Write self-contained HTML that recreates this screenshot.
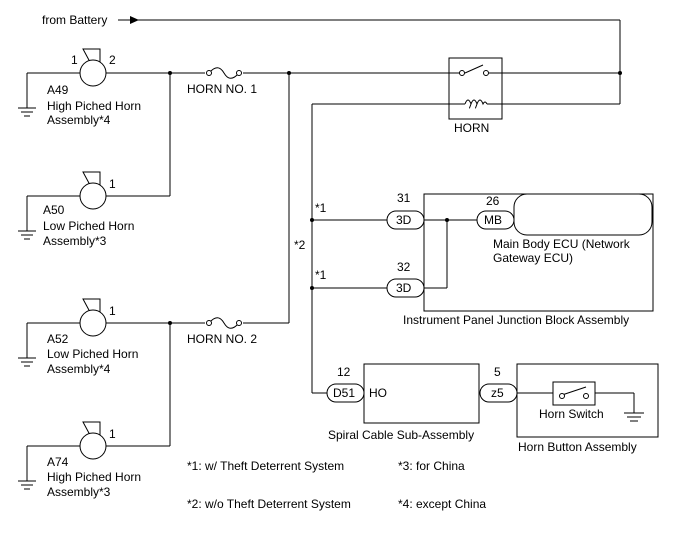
<!DOCTYPE html>
<html><head><style>body{margin:0;background:#fff}svg{display:block}text{font-family:"Liberation Sans",sans-serif;font-size:12px;fill:#000}</style></head>
<body>
<svg width="688" height="560" viewBox="0 0 688 560" xmlns="http://www.w3.org/2000/svg">
<g stroke="#000" stroke-width="1" fill="none">
<line x1="118" y1="20" x2="620" y2="20"/>
<line x1="620" y1="20" x2="620" y2="104"/>
<line x1="27" y1="73" x2="81" y2="73"/>
<line x1="105" y1="73" x2="205" y2="73"/>
<line x1="243" y1="73" x2="620" y2="73"/>
<path d="M209,73 C215,66 220,66 224,73 C228,80 233,80 239,73"/>
<line x1="312" y1="104" x2="620" y2="104"/>
<line x1="170" y1="73" x2="170" y2="196"/>
<line x1="27" y1="196" x2="81" y2="196"/>
<line x1="105" y1="196" x2="170" y2="196"/>
<line x1="289" y1="73" x2="289" y2="323"/>
<line x1="27" y1="323" x2="81" y2="323"/>
<line x1="105" y1="323" x2="205" y2="323"/>
<line x1="243" y1="323" x2="289" y2="323"/>
<path d="M209,323 C215,316 220,316 224,323 C228,330 233,330 239,323"/>
<line x1="170" y1="323" x2="170" y2="446"/>
<line x1="27" y1="446" x2="81" y2="446"/>
<line x1="105" y1="446" x2="170" y2="446"/>
<rect x="449" y="58" width="53" height="61" fill="#fff"/>
<line x1="449" y1="73" x2="462" y2="73"/><line x1="489" y1="73" x2="502" y2="73"/>
<line x1="465" y1="73" x2="483" y2="65"/>
<line x1="449" y1="104" x2="465" y2="104"/><line x1="487" y1="104" x2="502" y2="104"/>
<path d="M465,104 q3,-8 6,0 q-3,8 0,0 q3,-8 6,0 q-3,8 0,0 q3,-8 6,0 q2,-4 4,0"/>
<line x1="312" y1="104" x2="312" y2="393"/>
<line x1="312" y1="393" x2="327" y2="393"/>
<line x1="312" y1="220" x2="387" y2="220"/>
<line x1="312" y1="288" x2="387" y2="288"/>
<rect x="424" y="194" width="229" height="117"/>
<line x1="424" y1="220" x2="477" y2="220"/>
<line x1="447" y1="220" x2="447" y2="288"/>
<line x1="424" y1="288" x2="447" y2="288"/>
<rect x="514" y="194" width="138" height="41" rx="13" fill="#fff"/>
<rect x="364" y="364" width="115" height="59"/>
<line x1="517" y1="393" x2="553" y2="393"/>
<rect x="517" y="364" width="141" height="73"/>
<rect x="553" y="382" width="42" height="23"/>
<line x1="562" y1="395" x2="586" y2="387"/>
<line x1="595" y1="393" x2="634" y2="393"/>
<line x1="634" y1="393" x2="634" y2="413"/>
<line x1="624" y1="413" x2="644" y2="413"/><line x1="627" y1="417" x2="641" y2="417"/><line x1="630" y1="421" x2="638" y2="421"/>
</g>
<g fill="#fff" stroke="#000">
<circle cx="462" cy="73" r="2.5"/><circle cx="486" cy="73" r="2.5"/>
<circle cx="209" cy="73" r="2.5"/><circle cx="239" cy="73" r="2.5"/>
<circle cx="209" cy="323" r="2.5"/><circle cx="239" cy="323" r="2.5"/>
<circle cx="562" cy="396" r="2.5"/><circle cx="586" cy="396" r="2.5"/>
<rect x="387" y="211" width="37" height="18" rx="9"/>
<rect x="387" y="279" width="37" height="18" rx="9"/>
<rect x="477" y="211" width="37" height="18" rx="9"/>
<rect x="327" y="384" width="37" height="18" rx="9"/>
<rect x="480" y="384" width="37" height="18" rx="9"/>
</g>
<g fill="#000">
<polygon points="130,16 139,20 130,24"/>
<circle cx="620" cy="73" r="2"/><circle cx="170" cy="73" r="2"/><circle cx="289" cy="73" r="2"/>
<circle cx="170" cy="323" r="2"/><circle cx="312" cy="220" r="2"/><circle cx="312" cy="288" r="2"/><circle cx="447" cy="220" r="2"/>
</g>
<g stroke="#000" fill="#fff">
<g id="h"><path d="M83,49 L100,49 L100,63 L90,62 Z" fill="none"/><circle cx="93" cy="73" r="13"/>
<line x1="27" y1="73" x2="27" y2="108" fill="none"/><line x1="18" y1="108" x2="36" y2="108"/><line x1="21" y1="112" x2="33" y2="112"/><line x1="24" y1="116" x2="30" y2="116"/></g>
<use href="#h" y="123"/><use href="#h" y="250"/><use href="#h" y="373"/>
</g>
<text x="42" y="24">from Battery</text>
<text x="71" y="64">1</text><text x="109" y="64">2</text>
<text x="47" y="94">A49</text><text x="47" y="110">High Piched Horn</text><text x="47" y="124">Assembly*4</text>
<text x="109" y="188">1</text>
<text x="43" y="214">A50</text><text x="43" y="230">Low Piched Horn</text><text x="43" y="245">Assembly*3</text>
<text x="109" y="315">1</text>
<text x="47" y="343">A52</text><text x="47" y="358">Low Piched Horn</text><text x="47" y="373">Assembly*4</text>
<text x="109" y="438">1</text>
<text x="47" y="466">A74</text><text x="47" y="481">High Piched Horn</text><text x="47" y="496">Assembly*3</text>
<text x="187" y="93">HORN NO. 1</text>
<text x="187" y="343">HORN NO. 2</text>
<text x="454" y="132">HORN</text>
<text x="315" y="212">*1</text><text x="315" y="279">*1</text><text x="294" y="249">*2</text>
<text x="397" y="202">31</text><text x="397" y="271">32</text><text x="486" y="205">26</text>
<text x="396" y="224">3D</text><text x="396" y="292">3D</text><text x="484" y="224">MB</text>
<text x="493" y="248">Main Body ECU (Network</text><text x="493" y="262">Gateway ECU)</text>
<text x="403" y="324">Instrument Panel Junction Block Assembly</text>
<text x="337" y="376">12</text><text x="494" y="376">5</text>
<text x="333" y="397">D51</text><text x="369" y="397">HO</text><text x="491" y="397">z5</text>
<text x="539" y="418">Horn Switch</text>
<text x="328" y="439">Spiral Cable Sub-Assembly</text>
<text x="518" y="451">Horn Button Assembly</text>
<text x="187" y="470">*1: w/ Theft Deterrent System</text>
<text x="398" y="470">*3: for China</text>
<text x="187" y="508">*2: w/o Theft Deterrent System</text>
<text x="398" y="508">*4: except China</text>
</svg>
</body></html>
